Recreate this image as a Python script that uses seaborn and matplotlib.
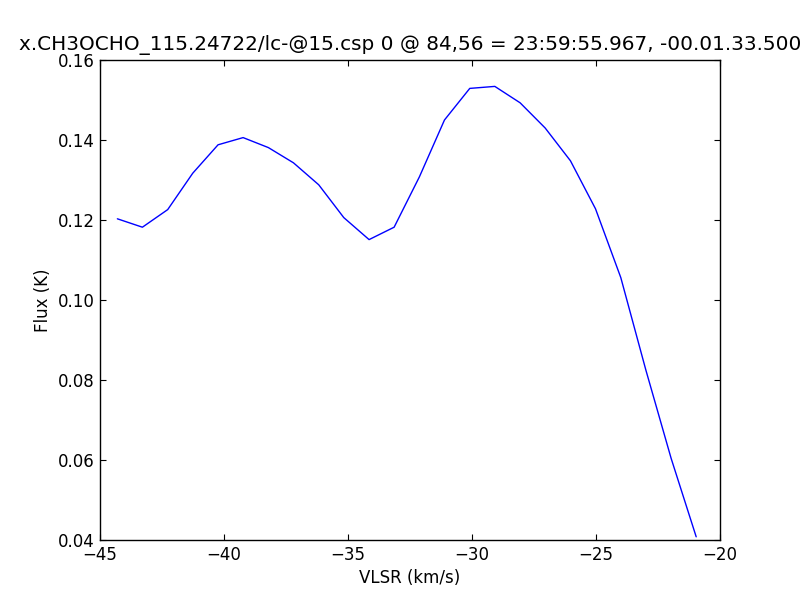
import matplotlib
matplotlib.use("Agg")
import matplotlib.pyplot as plt
import seaborn as sns
import pandas as pd

# Spectrum values
vlsr = [-44.30, -43.29, -42.27, -41.26, -40.24, -39.23, -38.21, -37.20,
        -36.18, -35.17, -34.15, -33.14, -32.12, -31.11, -30.09, -29.08,
        -28.06, -27.05, -26.03, -25.02, -24.00, -22.99, -21.97, -20.96]
flux = [0.1203, 0.1182, 0.1226, 0.1317, 0.1388, 0.1406, 0.1381, 0.1343,
        0.1288, 0.1206, 0.1151, 0.1182, 0.1308, 0.1450, 0.1529, 0.1534,
        0.1493, 0.1430, 0.1348, 0.1228, 0.1056, 0.0825, 0.0604, 0.0408]
title = "x.CH3OCHO_115.24722/lc-@15.csp 0 @ 84,56 = 23:59:55.967, -00.01.33.500"

df = pd.DataFrame({"vlsr": vlsr, "flux": flux})

sns.set_style("ticks")
plt.rcParams["font.family"] = ["DejaVu Sans"]
plt.rcParams["font.size"] = 12
plt.rcParams["axes.unicode_minus"] = True
plt.rcParams["text.color"] = "black"
plt.rcParams["axes.labelcolor"] = "black"
plt.rcParams["xtick.color"] = "black"
plt.rcParams["ytick.color"] = "black"

fig = plt.figure(figsize=(8, 6), dpi=100)
ax = fig.add_axes([0.125, 0.1, 0.775, 0.8])
sns.lineplot(data=df, x="vlsr", y="flux", color="blue", linewidth=1.0, ax=ax)

ax.set_xlim(-45, -20)
ax.set_ylim(0.04, 0.16)
ax.set_xticks([-45, -40, -35, -30, -25, -20])
ax.set_yticks([0.04, 0.06, 0.08, 0.10, 0.12, 0.14, 0.16])
ax.set_yticklabels(["0.04", "0.06", "0.08", "0.10", "0.12", "0.14", "0.16"])
ax.tick_params(direction="in", top=True, right=True, length=4, width=0.8,
               labelsize=12, pad=4, color="black", labelcolor="black")
for s in ax.spines.values():
    s.set_color("black")
    s.set_linewidth(1.0)
ax.set_xlabel("VLSR (km/s)", fontsize=12, color="black")
ax.set_ylabel("Flux (K)", fontsize=12, color="black")
ax.set_title(title, fontsize=14.4, pad=7, color="black")

fig.savefig("out.png", dpi=100, facecolor="white")
